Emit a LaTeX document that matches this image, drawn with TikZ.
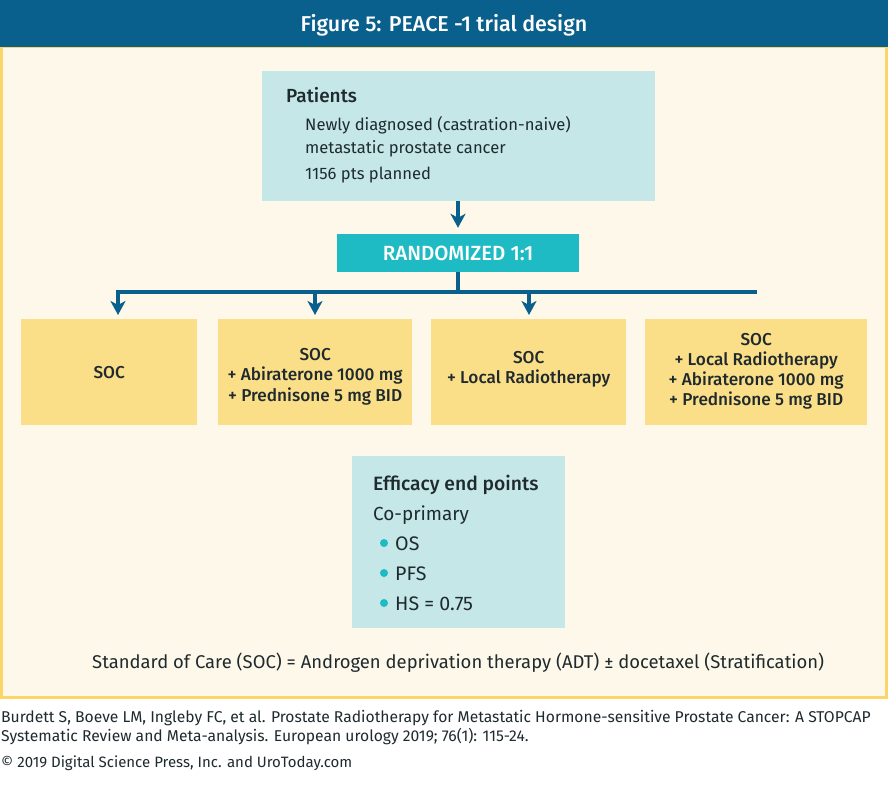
\documentclass[tikz,border=0pt]{standalone}
\usepackage{fontspec}
\setmainfont{Fira Sans}
\newfontfamily\medfont{Fira Sans Medium}
\usetikzlibrary{arrows.meta}
\definecolor{bandblue}{HTML}{0A608C}
\definecolor{framegold}{HTML}{FBD667}
\definecolor{paper}{HTML}{FEF8EA}
\definecolor{paleteal}{HTML}{C5E7E8}
\definecolor{tealbox}{HTML}{1EBBC5}
\definecolor{armgold}{HTML}{FBDE88}
\definecolor{inkdark}{HTML}{1F2A2E}
\tikzset{>={Stealth[inset=4pt,length=14pt,width=15pt]}}
\tikzset{
	flow/.style={draw=bandblue, line width=3.8pt},
	txt/.style={anchor=base west, inner sep=0pt, text=inkdark, font=\fontsize{16.6}{20}\selectfont},
	head/.style={txt, font=\fontsize{19}{20}\selectfont\medfont},
	armtxt/.style={align=center, inner sep=0pt, text=inkdark, font=\fontsize{17.2}{20.2}\selectfont\medfont},
	note/.style={txt, font=\fontsize{15.65}{18}\selectfont},
	armbox/.style={fill=armgold, anchor=north west, inner sep=0pt}
}
\begin{document}
\begin{tikzpicture}[x=1pt,y=-1pt]
	\useasboundingbox (0,0) rectangle (888,789);
	% frame and title
	\fill [white] (0,0) rectangle (888,789);
	\draw [framegold, fill=paper, line width=3pt] (1.5,47) rectangle (886.5,697.5);
	\node (band) [fill=bandblue, anchor=north west, minimum width=888pt, minimum height=47pt, inner sep=0pt] at (0,0) {};
	\node (title) [text=white, inner sep=0pt, font=\fontsize{21.5}{24}\selectfont\medfont] at (444,25) {Figure 5: PEACE -1 trial design};
	% patients
	\node (patients) [fill=paleteal, anchor=north west, minimum width=393pt, minimum height=130pt, inner sep=0pt] at (262,71) {};
	\node (ptitle) [head] at (286,102.5) {Patients};
	\node (pline1) [txt] at (305,130.5) {Newly diagnosed (castration-naive)};
	\node (pline2) [txt] at (305,153) {metastatic prostate cancer};
	\node (pline3) [txt] at (305,179) {1156 pts planned};
	% randomized
	\node (rand) [fill=tealbox, text=white, minimum width=242pt, minimum height=38pt, inner sep=0pt, font=\fontsize{20.5}{24}\selectfont\medfont] at (458,253) {RANDOMIZED 1:1};
	% arms
	\node (soc) [armbox, minimum width=176pt, minimum height=106pt] at (21,319) {};
	\node (abi) [armbox, minimum width=194pt, minimum height=106pt] at (218,319) {};
	\node (rad) [armbox, minimum width=195pt, minimum height=106pt] at (431,319) {};
	\node (both) [armbox, minimum width=222pt, minimum height=106pt] at (645,319) {};
	\node (soctxt) [armtxt] at (soc.center) {SOC};
	\node (abitxt) [armtxt, yshift=-4.5pt] at (abi.center) {SOC\\+ Abiraterone 1000 mg\\+ Prednisone 5 mg BID};
	\node (radtxt) [armtxt, yshift=3pt] at (rad.center) {SOC\\+ Local Radiotherapy};
	\node (bothtxt) [armtxt, yshift=1pt] at (both.center) {SOC\\+ Local Radiotherapy\\+ Abiraterone 1000 mg\\+ Prednisone 5 mg BID};
	% bus
	\coordinate (busL) at (116.1,292);
	\coordinate (busM) at (458,292);
	\coordinate (busR) at (757,292);
	\coordinate (busA) at (118,292);
	\coordinate (busB) at (315,292);
	\coordinate (busC) at (529,292);
	\draw [flow, ->, shorten >=6pt] (patients.south -| rand.north) -- (rand.north);
	\draw [flow] (rand.south) -- (busM);
	\draw [flow] (busL) -- (busR);
	\draw [flow, ->, shorten >=4pt] (busA) -- (busA |- soc.north);
	\draw [flow, ->, shorten >=4pt] (busB) -- (busB |- abi.north);
	\draw [flow, ->, shorten >=4pt] (busC) -- (busC |- rad.north);
	% end points
	\node (eff) [fill=paleteal, anchor=north west, minimum width=213pt, minimum height=172pt, inner sep=0pt] at (352,456) {};
	\node (etitle) [head, font=\fontsize{19.3}{20}\selectfont\medfont] at (373,490) {Efficacy end points};
	\node (eline) [txt, font=\fontsize{18.9}{20}\selectfont] at (373,520) {Co-primary};
	\foreach \nm/\yy/\tx in {os/550/OS, pfs/580/PFS, hs/610/HS = 0.75} {
		\node (\nm) [txt, font=\fontsize{19.6}{20}\selectfont] at (395,\yy) {\tx};
		\node (dot\nm) [circle, fill=tealbox, minimum size=8pt, inner sep=0pt] at (384,\yy-7) {};
	}
	\node (legend) [txt, font=\fontsize{18.45}{20}\selectfont] at (92,668) {Standard of Care (SOC) = Androgen deprivation therapy (ADT) ± docetaxel (Stratification)};
	% source
	\node (src1) [note] at (1,722) {Burdett S, Boeve LM, Ingleby FC, et al. Prostate Radiotherapy for Metastatic Hormone-sensitive Prostate Cancer: A STOPCAP};
	\node (src2) [note] at (1,741) {Systematic Review and Meta-analysis. European urology 2019; 76(1): 115-24.};
	\node (src3) [note, font=\fontsize{15}{18}\selectfont] at (1,767) {© 2019 Digital Science Press, Inc. and UroToday.com};
\end{tikzpicture}
\end{document}
